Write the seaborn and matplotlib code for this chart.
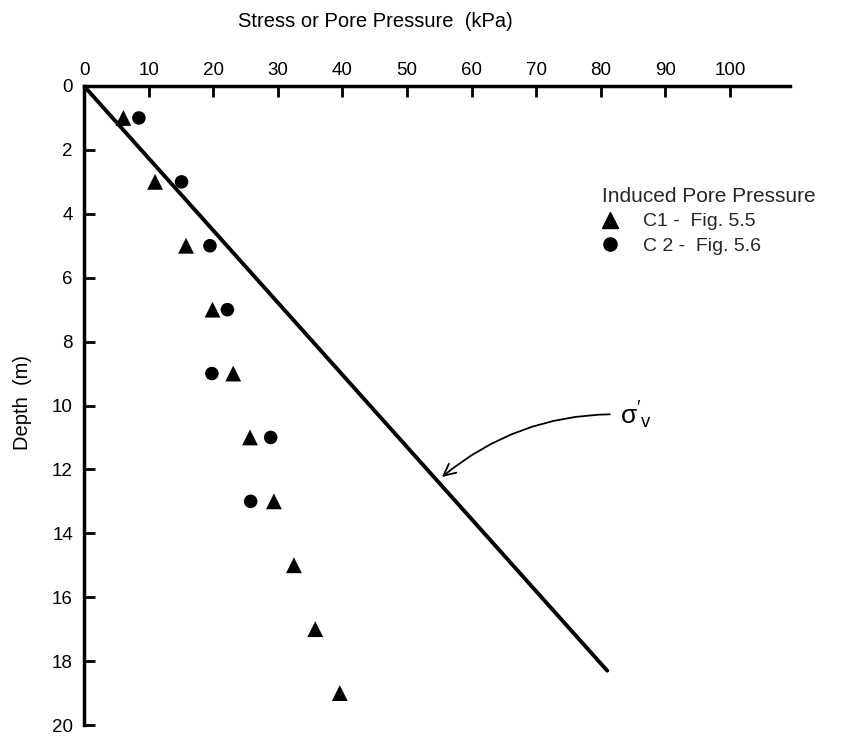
import matplotlib
matplotlib.use("Agg")
import matplotlib.pyplot as plt
import seaborn as sns
import pandas as pd
from matplotlib.lines import Line2D

# ---- data ----
depth_c1 = [1, 3, 5, 7, 9, 11, 13, 15, 17, 19]
pore_c1 = [6.1, 11.0, 15.8, 19.9, 23.1, 25.7, 29.4, 32.5, 35.8, 39.6]
depth_c2 = [1, 3, 5, 7, 9, 11, 13]
pore_c2 = [8.5, 15.1, 19.5, 22.2, 19.8, 28.9, 25.8]
sigma_depth = [0, 18.3]
sigma_stress = [0, 81.0]
x_ticks = [0, 10, 20, 30, 40, 50, 60, 70, 80, 90, 100]
y_ticks = [0, 2, 4, 6, 8, 10, 12, 14, 16, 18, 20]
label_c1 = "C1 -  Fig. 5.5"
label_c2 = "C 2 -  Fig. 5.6"

sns.set_theme(style="white")
plt.rcParams["font.family"] = ["Liberation Sans", "DejaVu Sans"]
plt.rcParams["mathtext.fontset"] = "custom"
plt.rcParams["mathtext.rm"] = "Liberation Sans"
plt.rcParams["mathtext.it"] = "Liberation Sans"

W, H = 841, 742
fig = plt.figure(figsize=(W / 100, H / 100), dpi=100)
ax = fig.add_axes([84 / W, 1 - 725 / H, (790 - 84) / W, (725 - 86) / H])

df1 = pd.DataFrame({"stress": pore_c1, "depth": depth_c1})
df2 = pd.DataFrame({"stress": pore_c2, "depth": depth_c2})
dfs = pd.DataFrame({"stress": sigma_stress, "depth": sigma_depth})

sns.lineplot(data=dfs, x="stress", y="depth", ax=ax, color="black", lw=2.8,
             sort=False, estimator=None)
sns.scatterplot(data=df1, x="stress", y="depth", ax=ax, marker="^", s=130,
                color="black", edgecolor="none", zorder=5)
sns.scatterplot(data=df2, x="stress", y="depth", ax=ax, marker="o", s=95,
                color="black", edgecolor="none", zorder=5)

ax.set_xlim(0, 109.3)
ax.set_ylim(20, 0)
ax.set_xticks(x_ticks)
ax.set_yticks(y_ticks)
ax.xaxis.tick_top()
ax.xaxis.set_label_position("top")
for s in ["right", "bottom"]:
    ax.spines[s].set_visible(False)
for s in ["top", "left"]:
    ax.spines[s].set_linewidth(2.5)
    ax.spines[s].set_color("black")
ax.tick_params(axis="x", direction="in", length=8, width=2, pad=5,
               labelsize=13.5, colors="black", top=True, bottom=False)
ax.tick_params(axis="y", direction="in", length=8, width=2, pad=8,
               labelsize=13.5, colors="black", left=True)

ax.set_xlabel("Stress or Pore Pressure  (kPa)", fontsize=14.5, color="black")
ax.xaxis.set_label_coords((375 - 84) / 706, 1 + (86 - 22) / 639)
ax.xaxis.label.set_va("center")
ax.set_ylabel("Depth  (m)", fontsize=14.5, color="black")
ax.yaxis.set_label_coords((22 - 84) / 706, (725 - 402) / 639)
ax.yaxis.label.set_va("center")

handles = [
    Line2D([], [], marker="^", color="black", ls="none", markersize=11),
    Line2D([], [], marker="o", color="black", ls="none", markersize=9.5),
]
leg = ax.legend(handles, [label_c1, label_c2], title="Induced Pore Pressure",
                loc="upper left", bbox_to_anchor=(602 / W, 1 - 187 / H),
                bbox_transform=fig.transFigure, frameon=False,
                alignment="left", handlelength=0.8, handletextpad=1.3,
                borderpad=0, borderaxespad=0, labelspacing=0.35,
                fontsize=14, title_fontsize=15)

ax.annotate(r"$\mathrm{\sigma}'_\mathrm{v}$", xy=(55.4, 12.24), xytext=(83.0, 10.3),
            fontsize=19, ha="left", va="center", color="black",
            arrowprops=dict(arrowstyle="->,head_length=0.45,head_width=0.22",
                            connectionstyle="arc3,rad=0.2", lw=1.3,
                            color="black", shrinkA=5, shrinkB=0))

fig.savefig("out.png", dpi=100)
